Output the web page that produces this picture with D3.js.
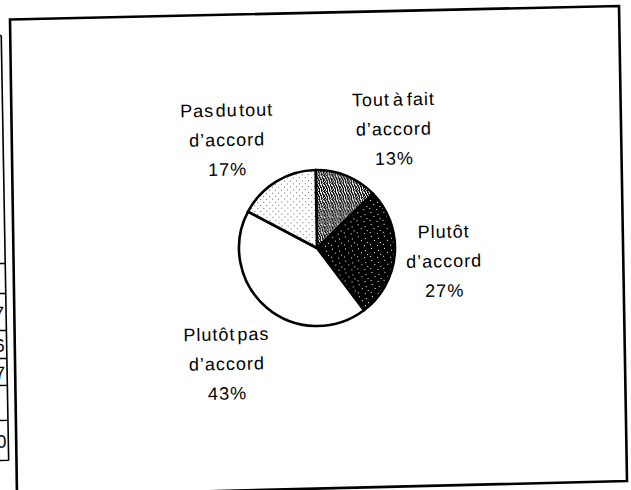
<!DOCTYPE html>
<html>
<head>
<meta charset="utf-8">
<script src="https://cdn.jsdelivr.net/npm/d3@7"></script>
<style>
  html, body { margin: 0; padding: 0; background: #fff; }
  svg { display: block; }
  .lbl { font-family: "Liberation Sans", Arial, sans-serif; font-size: 18px; letter-spacing: 1px; fill: #000; }
</style>
</head>
<body>
<svg id="chart" width="631" height="490"></svg>
<script>
// Survey answers, clockwise from 12 o'clock
const categories = ["Tout à fait d’accord", "Plutôt d’accord", "Plutôt pas d’accord", "Pas du tout d’accord"];
const labelLines = [["Tout à fait", "d’accord"], ["Plutôt", "d’accord"], ["Plutôt pas", "d’accord"], ["Pas du tout", "d’accord"]];
const shares = [13, 27, 43, 17];

// Right-hand edge of the neighbouring table (only its last column shows)
const tableDigits = ["7", "6", "7", "0"];

const W = 631, H = 490;
const cx = 317, cy = 248, R = 78;
const tilt = -1.0; // the whole sheet sits slightly askew

const svg = d3.select("#chart");
const defs = svg.append("defs");

// --- fill patterns -------------------------------------------------------
function bitmapPattern(id, rows, bg, fg) {
  const p = defs.append("pattern").attr("id", id)
    .attr("patternUnits", "userSpaceOnUse")
    .attr("width", rows[0].length).attr("height", rows.length);
  p.append("rect").attr("width", rows[0].length).attr("height", rows.length).attr("fill", bg);
  rows.forEach((row, y) => {
    [...row].forEach((ch, x) => {
      if (ch === "x") p.append("rect").attr("x", x).attr("y", y).attr("width", 1).attr("height", 1).attr("fill", fg);
    });
  });
}
// squiggly weave
bitmapPattern("pWeave", [
  "xx.x..x.",
  ".x.xx.x.",
  ".xx.x.xx",
  "x.x.xx.x",
  "x.xx.x.x",
  ".x.x.x.x",
  "xx.x.xx.",
  "x.xx.x.x"
], "#fff", "#000");
// black with sparse white specks
bitmapPattern("pDark", [
  ".............",
  "..x..........",
  ".............",
  ".........x...",
  ".............",
  ".....x.......",
  ".............",
  "...........x.",
  ".............",
  ".x...........",
  "........x....",
  "............."
], "#000", "#fff");
// light stipple
bitmapPattern("pLight", [
  "......",
  ".x....",
  "......",
  "......",
  "....x.",
  "......"
], "#fff", "#666");

const fills = ["url(#pWeave)", "url(#pDark)", "#fff", "url(#pLight)"];

// --- outer frame (the sheet is slightly skewed, so it is a quadrilateral) --
const frameCorners = [[10, 19.5], [619, 6], [627, 481], [17, 496]];
svg.append("path")
  .attr("d", d3.line().curve(d3.curveLinearClosed)(frameCorners))
  .attr("fill", "none").attr("stroke", "#000").attr("stroke-width", 2.6)
  .attr("stroke-linejoin", "miter");

// --- everything else is drawn in a slightly rotated frame ------------------
const sheet = svg.append("g").attr("transform", `rotate(${tilt},${cx},${cy})`);

// neighbouring table edge
const tableRules = [30, 258, 288, 325, 353, 380, 415, 455];
sheet.append("line").attr("x1", 5).attr("x2", 5).attr("y1", tableRules[0]).attr("y2", tableRules[tableRules.length - 1])
  .attr("stroke", "#000").attr("stroke-width", 1.6);
sheet.selectAll("line.rule").data(tableRules).join("line").attr("class", "rule")
  .attr("x1", -10).attr("x2", 5).attr("y1", d => d).attr("y2", d => d)
  .attr("stroke", "#000").attr("stroke-width", 1.4);
const digitRows = [2, 3, 4, 6];
sheet.selectAll("text.digit").data(tableDigits).join("text").attr("class", "lbl digit")
  .attr("x", 3).attr("text-anchor", "end").style("letter-spacing", "0px")
  .attr("y", (d, i) => (tableRules[digitRows[i] + 1] + tableRules[digitRows[i]]) / 2 + 7)
  .text(d => d);

// --- pie -----------------------------------------------------------------
const pie = d3.pie().sort(null).value(d => d)(shares);
const arc = d3.arc().innerRadius(0).outerRadius(R);

const pieG = sheet.append("g").attr("transform", `translate(${cx},${cy})`);
pieG.selectAll("path").data(pie).join("path")
  .attr("d", arc)
  .attr("fill", (d, i) => fills[i])
  .attr("stroke", "#000").attr("stroke-width", 2.6).attr("stroke-linejoin", "round");

// --- labels --------------------------------------------------------------
// block centre x and first baseline, relative to the pie centre
const labelAnchor = [[79, -141], [127, -8], [-92, 91], [-88, -133]];
const wordGap = ["-3px", "0px", "-4px", "-4.5px"];
const lineH = 29.5;

pie.forEach((d, i) => {
  const [ax, ay] = labelAnchor[i];
  const t = sheet.append("text").attr("class", "lbl")
    .attr("text-anchor", "middle")
    .style("word-spacing", wordGap[i]);
  const lines = labelLines[i].concat([d3.format(".0f")(d.value) + "%"]);
  lines.forEach((ln, k) => {
    t.append("tspan").attr("x", cx + ax).attr("y", cy + ay + k * lineH).text(ln);
  });
});
</script>
</body>
</html>
